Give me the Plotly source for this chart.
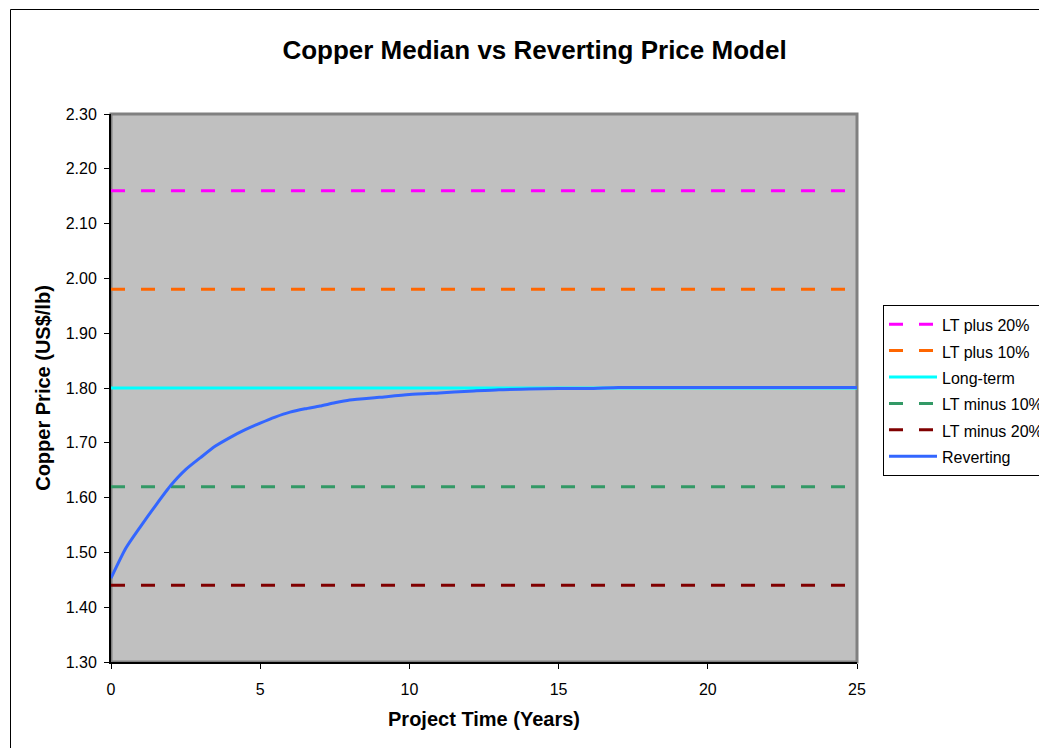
import plotly.graph_objects as go

title = "Copper Median vs Reverting Price Model"
years_lt = [0, 25]
lt_plus20 = [2.16, 2.16]
lt_plus10 = [1.98, 1.98]
long_term = [1.80, 1.80]
lt_minus10 = [1.62, 1.62]
lt_minus20 = [1.44, 1.44]

rev_years = [0, 0.5, 1, 1.5, 2, 2.5, 3, 3.5, 4, 4.5, 5, 5.5, 6, 6.5, 7, 7.5, 8,
             9, 10, 11, 12, 13, 14, 15, 16, 17, 18, 19, 20, 21, 22, 23, 24, 25]
rev_price = [1.453, 1.508, 1.548, 1.586, 1.622, 1.651, 1.673, 1.694, 1.710, 1.724,
             1.736, 1.747, 1.756, 1.762, 1.767, 1.773, 1.778,
             1.783, 1.788, 1.791, 1.794, 1.797, 1.798, 1.799, 1.799, 1.801,
             1.801, 1.801, 1.801, 1.801, 1.801, 1.801, 1.801, 1.801]

FONT = "Liberation Sans, Arial, sans-serif"
DASH = "14px,16px"

def leg(name):
    return '<span style="font-size:16px">' + name + '</span>'

fig = go.Figure()
series = [
    ("LT plus 20%", lt_plus20, "#FF00FF", DASH),
    ("LT plus 10%", lt_plus10, "#FF6600", DASH),
    ("Long-term", long_term, "#00FFFF", "solid"),
    ("LT minus 10%", lt_minus10, "#339966", DASH),
    ("LT minus 20%", lt_minus20, "#800000", DASH),
]
for name, vals, col, dash in series:
    fig.add_trace(go.Scatter(x=years_lt, y=vals, mode="lines", name=leg(name),
                             line=dict(color=col, width=3, dash=dash)))
fig.add_trace(go.Scatter(x=rev_years, y=rev_price, mode="lines", name=leg("Reverting"),
                         line=dict(color="#3366FF", width=3, shape="spline", smoothing=0.6)))

L, R, T, B = 111, 857, 114, 662
W, H = 1120, 748
pw, ph = R - L, B - T

def px_to_paper_x(px):
    return (px - L) / pw

def px_to_paper_y(py):
    return (B - py) / ph

fig.update_layout(
    width=W, height=H,
    margin=dict(l=L, r=W - R, t=T, b=H - B, pad=0),
    paper_bgcolor="white",
    plot_bgcolor="#C0C0C0",
    font=dict(family=FONT, size=16, color="black"),
    title=dict(text="<b>" + title + "</b>", font=dict(size=26, family=FONT, color="black"),
               x=534.5 / W, xanchor="center", y=1 - 50 / H, yanchor="middle"),
    showlegend=True,
    legend=dict(x=px_to_paper_x(883), y=px_to_paper_y(305), xanchor="left", yanchor="top",
                bgcolor="white", bordercolor="black", borderwidth=1, itemwidth=48,
                font=dict(size=18, family=FONT), tracegroupgap=0),
    xaxis=dict(range=[0, 25], tickvals=[0, 5, 10, 15, 20, 25], showgrid=False, zeroline=False,
               showline=True, linecolor="black", linewidth=2, ticks="outside", ticklen=5,
               tickcolor="black", tickfont=dict(size=16), ticklabelstandoff=7,
               title=dict(text="<b>Project Time (Years)</b>", font=dict(size=20), standoff=15)),
    yaxis=dict(range=[1.30, 2.30], dtick=0.1, tickformat=".2f", showgrid=False, zeroline=False,
               showline=True, linecolor="black", linewidth=2, ticks="outside", ticklen=5,
               tickcolor="black", tickfont=dict(size=16), ticklabelstandoff=4,
               title=dict(text="<b>Copper Price (US$/lb)</b>", font=dict(size=20), standoff=10)),
)

# plot-area grey frame (top/right)
fig.add_shape(type="rect", xref="paper", yref="paper", x0=0, y0=0, x1=1, y1=1,
              line=dict(color="#808080", width=3), layer="below")
# outer chart border
fig.add_shape(type="rect", xref="paper", yref="paper",
              x0=px_to_paper_x(10.5), y0=px_to_paper_y(800), x1=px_to_paper_x(1200), y1=px_to_paper_y(9.5),
              line=dict(color="black", width=1), layer="below")

page_js = ("document.documentElement.style.margin='0';"
           "document.body.style.margin='0';"
           "document.documentElement.style.overflow='hidden';"
           "document.body.style.overflow='hidden';")

fig.write_html("out.html", post_script=page_js, config={"displayModeBar": False})
